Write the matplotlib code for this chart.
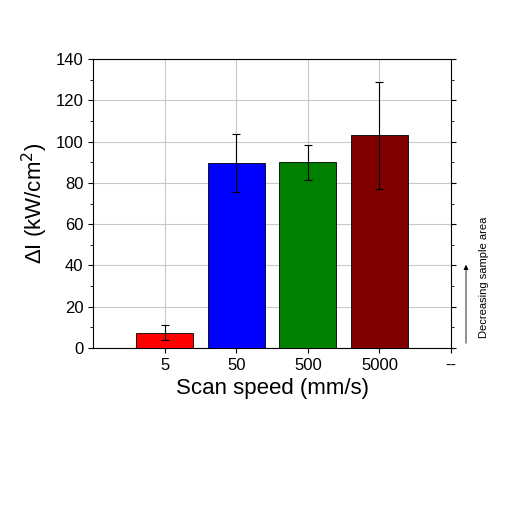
import matplotlib
matplotlib.use("Agg")
import matplotlib.pyplot as plt
from matplotlib.ticker import MultipleLocator

plt.rcParams['font.family'] = ['Liberation Sans', 'DejaVu Sans']

labels = ["5", "50", "500", "5000", "--"]
values = [7.5, 89.5, 90, 103]
errors = [3.5, 14, 8.5, 26]
colors = ["#ff0000", "#0000ff", "#008000", "#800000"]

fig = plt.figure(figsize=(5.12, 5.12), dpi=100)
ax = fig.add_axes([93/512, 1-348/512, 358/512, 289/512])
pos = [1, 2, 3, 4]
ax.bar(pos, values, width=0.8, color=colors, edgecolor="black", linewidth=0.6,
       yerr=errors, capsize=3, error_kw=dict(elinewidth=0.8, capthick=0.8), zorder=3)
ax.set_xlim(0, 5)
ax.set_ylim(0, 140)
ax.set_xticks([1, 2, 3, 4, 5])
ax.set_xticklabels(labels)
ax.yaxis.set_major_locator(MultipleLocator(20))
ax.yaxis.set_minor_locator(MultipleLocator(10))
ax.grid(True, color="#c8c8c8", linewidth=0.8, zorder=0)
ax.tick_params(which="both", direction="out", labelsize=12, right=True)
ax.tick_params(axis="y", which="both", labelright=False)
ax.set_ylabel("ΔI (kW/cm$^2$)", fontsize=16)
ax.set_xlabel("Scan speed (mm/s)", fontsize=16)
fig.text(484/512, 1-277/512, "Decreasing sample area", rotation=90, fontsize=8,
         ha="center", va="center")
fig.add_artist(matplotlib.patches.FancyArrowPatch((466/512, 1-346/512), (466/512, 1-262/512),
               transform=fig.transFigure, arrowstyle="-|>", mutation_scale=7, lw=0.6, color="black"))
fig.savefig("out.png", dpi=100)
